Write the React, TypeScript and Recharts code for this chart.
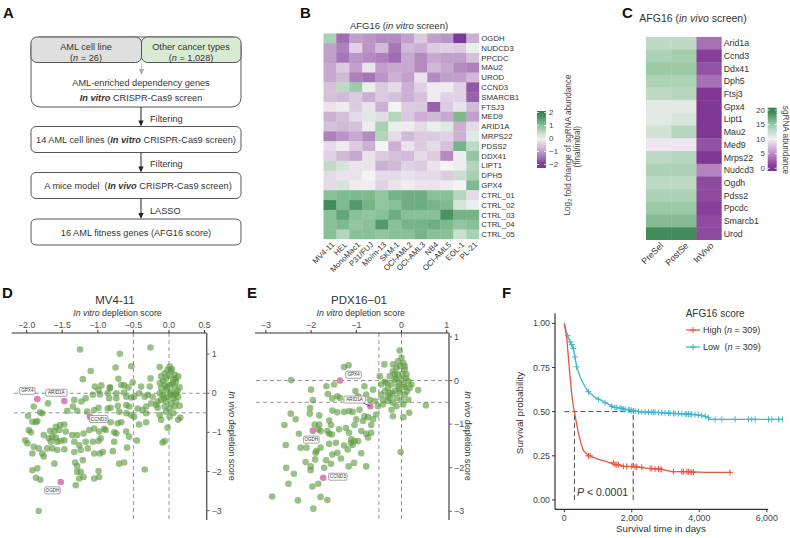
import React from 'react';
import {
  ScatterChart,
  Scatter,
  ComposedChart,
  Line,
  XAxis,
  YAxis,
  ReferenceLine,
} from 'recharts';

const FONT = '"Liberation Sans", Arial, sans-serif';
const INK = '#333';
const DOT_GREEN = '#5a9a3c';
const PINK = '#d884b8';
const RED = '#e8553f';
const BLUE = '#3fb5cf';

// ---------- B: AFG16 in vitro screen (log2 fold change) ----------
const B_LINES = ['MV4-11', 'HEL', 'MonoMac1', 'P31/FUJ', 'Molm-13', 'SKM-1', 'OCI-AML2', 'OCI-AML3', 'NB4', 'OCI-AML5', 'EOL-1', 'PL-21'];
const B_GENES = ['OGDH', 'NUDCD3', 'PPCDC', 'MAU2', 'UROD', 'CCND3', 'SMARCB1', 'FTSJ3', 'MED9', 'ARID1A', 'MRPS22', 'PDSS2', 'DDX41', 'LIPT1', 'DPH5', 'GPX4', 'CTRL_01', 'CTRL_02', 'CTRL_03', 'CTRL_04', 'CTRL_05'];
const B_LFC = [
  [0.7, -1.5, -1.0, -1.1, -1.2, -1.2, -1.0, -0.5, -1.0, -1.1, -2.0, -0.8],
  [-1.0, -1.3, -0.4, -1.1, -0.7, -1.4, -0.7, -0.8, -0.5, -0.4, -0.5, 0.1],
  [-1.0, -1.4, -1.1, -1.2, -1.3, -1.5, -0.9, -1.2, -0.9, -1.0, -1.0, -0.6],
  [-0.9, -0.5, -1.0, -0.2, -1.0, -0.9, -0.9, -1.2, -0.7, -0.9, -1.2, -1.3],
  [-0.9, -0.7, -1.3, -1.4, -1.1, -0.8, -1.0, -0.2, -1.2, -1.0, -1.0, -0.7],
  [-0.6, 0.5, 0.8, 0.1, -0.5, -0.3, -0.8, -0.4, -0.1, -0.1, -0.4, -1.7],
  [-0.6, -0.7, -0.5, -0.8, -0.5, -0.6, -0.8, -0.6, -0.1, -0.4, -0.4, -1.6],
  [-0.2, -0.1, -0.5, -0.2, -0.8, 0.0, -0.5, -0.5, -1.6, -0.5, -0.2, -0.7],
  [-0.8, -0.6, -0.3, 0.2, -0.3, 0.6, -0.5, -0.8, -0.7, -0.9, 1.1, -1.0],
  [-0.6, -0.7, -0.6, -0.1, 0.7, 0.1, -0.1, -0.3, 0.1, 0.2, -0.8, -0.3],
  [-1.3, -1.1, -0.9, -1.2, 0.6, -0.3, -0.7, -0.5, -0.5, -0.4, -0.8, 0.2],
  [-0.3, -0.1, -0.5, -0.8, 0.0, -0.8, -0.2, -0.5, -0.3, -0.6, 1.2, 0.5],
  [-0.4, -0.7, -0.9, -0.2, -0.5, -0.6, -0.7, -0.3, -0.5, -1.2, -0.1, 0.9],
  [0.5, 0.3, -0.2, -0.2, -0.8, -0.7, -0.4, -0.5, -0.2, 0.0, -0.1, 0.6],
  [-0.3, -0.2, -0.2, 0.0, -0.3, -0.3, -0.2, -0.3, -0.3, -0.5, 0.4, 0.7],
  [-0.3, 0.3, -0.1, -0.1, -0.4, -0.2, -0.1, -0.2, -0.2, -0.1, 0.0, 1.1],
  [1.0, 1.1, 1.1, 1.1, 0.9, 1.2, 1.3, 1.3, 1.0, 1.0, 0.6, -0.3],
  [1.8, 1.1, 1.6, 1.2, 0.9, 1.0, 1.3, 1.3, 1.2, 1.1, 0.3, 0.1],
  [1.0, 1.4, 1.0, 0.9, 1.0, 1.3, 1.0, 1.0, 1.0, 1.7, 1.2, 1.2],
  [1.0, 1.1, 0.9, 1.0, 1.6, 1.0, 1.2, 1.2, 1.3, 1.1, 0.9, 1.0],
  [1.0, 0.6, 1.0, 1.0, 0.9, 1.0, 1.0, 1.2, 1.0, 1.0, 0.4, 0.7],
];
const B_STOPS: [number, string][] = [[-2, '#7b3a96'], [-1, '#c29fcc'], [0, '#f4f4f4'], [1, '#88c097'], [2, '#2f8049']];
const B_BAR_TICKS = [2, 1, 0, -1, -2];

// ---------- C: AFG16 in vivo screen (sgRNA abundance) ----------
const C_SAMPLES = ['PreSel', 'PostSe', 'InVivo'];
const C_GENES = ['Arid1a', 'Ccnd3', 'Ddx41', 'Dph5', 'Ftsj3', 'Gpx4', 'Lipt1', 'Mau2', 'Med9', 'Mrps22', 'Nudcd3', 'Ogdh', 'Pdss2', 'Ppcdc', 'Smarcb1', 'Urod'];
const C_ABUND = [
  [13, 13, 3.5],
  [14, 14.5, 1],
  [15, 15, 2],
  [14, 14, 3.5],
  [13, 13.5, 0.5],
  [11, 11, 0.5],
  [11, 11.5, 0.5],
  [12, 13.5, 0.5],
  [9.5, 9.5, 2],
  [13, 13.5, 0.5],
  [14, 14, 4.5],
  [13, 13, 1.5],
  [14, 14, 1.5],
  [15, 15, 1],
  [16, 16, 1.5],
  [19, 19, 1.5],
];
const C_STOPS: [number, string][] = [[0, '#7a2d8e'], [5, '#b98cc5'], [10, '#f3f0f3'], [15, '#9ccaa7'], [20, '#2e7d47']];
const C_BAR_TICKS = [20, 15, 10, 5, 0];

// ---------- D: MV4-11 depletion scores (in vitro, in vivo) ----------
const D_POINTS: [number, number][] = [
  [-1.25, 1.12], [-1.10, 0.57], [-1.21, 0.36], [-1.04, 0.17], [-0.95, 0.20], [-0.99, 0.08], [-0.83, 0.13], [-1.07, -0.04],
  [-0.97, -0.03], [-1.17, -0.13], [-1.33, -0.17], [-1.23, -0.21], [-1.35, -0.34], [-1.70, -0.26], [-1.90, -0.34], [-1.81, -0.49],
  [-1.78, -0.51], [-1.43, -0.45], [-1.29, -0.45], [-1.15, -0.47], [-1.05, -0.43], [-0.99, -0.37], [-0.86, -0.39], [-1.98, -0.58],
  [-1.92, -0.73], [-1.87, -0.74], [-1.85, -0.71], [-1.97, -0.94], [-1.94, -1.00], [-1.76, -1.07], [-1.67, -0.96], [-1.59, -0.86],
  [-1.53, -0.81], [-1.47, -0.80], [-1.61, -0.98], [-1.54, -0.94], [-1.45, -0.98], [-1.36, -1.07], [-1.29, -1.07], [-1.20, -1.03],
  [-1.12, -0.94], [-1.05, -0.90], [-0.98, -0.98], [-0.91, -0.91], [-2.02, -1.20], [-1.99, -1.28], [-1.90, -1.37], [-1.83, -1.41],
  [-1.78, -1.54], [-1.69, -1.15], [-1.64, -1.11], [-1.59, -1.14], [-1.66, -1.24], [-1.57, -1.24], [-1.52, -1.22], [-1.47, -1.20],
  [-1.33, -1.24], [-1.26, -1.33], [-1.17, -1.24], [-1.07, -1.24], [-0.99, -1.22], [-0.96, -1.15], [-1.71, -1.41], [-1.64, -1.41],
  [-1.57, -1.45], [-1.47, -1.43], [-1.33, -1.50], [-1.24, -1.45], [-1.14, -1.41], [-1.05, -1.54], [-0.97, -1.54], [-0.93, -1.50],
  [-1.92, -1.54], [-1.76, -1.62], [-1.61, -1.80], [-1.32, -1.77], [-1.21, -1.71], [-1.29, -1.86], [-1.92, -1.97], [-1.85, -1.92],
  [-1.87, -2.16], [-1.81, -2.21], [-1.29, -2.01], [-1.24, -2.01], [-1.20, -2.14], [-1.26, -2.18], [-1.05, -2.18], [-0.98, -2.14],
  [-0.99, -1.99], [-1.31, -2.35], [-1.83, -3.01],
  [-0.26, 1.17], [-0.69, 1.01], [-0.75, 0.66], [-0.53, 0.69], [-0.13, 0.67], [-0.71, 0.37], [-0.51, 0.28], [-0.26, 0.38],
  [-0.83, 0.15], [-0.67, 0.21], [-0.63, 0.20], [-0.57, 0.15], [-0.39, 0.17], [-0.27, 0.17], [-0.86, 0.00], [-0.74, 0.00],
  [-0.63, 0.02], [-0.49, -0.09], [-0.42, 0.00], [-0.34, -0.09], [-0.30, -0.04], [-0.23, -0.09], [-0.74, -0.13], [-0.84, -0.13],
  [-0.60, -0.09], [-0.53, -0.11], [-0.82, -0.37], [-0.72, -0.32], [-0.60, -0.30], [-0.56, -0.34], [-0.44, -0.39], [-0.37, -0.43],
  [-0.32, -0.34], [-0.25, -0.26], [-0.18, -0.30], [-0.16, -0.37], [-0.70, -0.47], [-0.60, -0.51], [-0.53, -0.56], [-0.49, -0.60],
  [-0.32, -0.51], [-0.13, -0.56], [-0.11, -0.68], [-0.67, -0.74], [-0.72, -0.77], [-0.82, -0.74], [-0.42, -0.80], [-0.32, -0.74],
  [-0.02, -0.88], [-0.89, -0.94], [-0.77, -1.00], [-0.74, -1.03], [-0.60, -0.98], [-0.56, -1.11], [-0.77, -1.24], [-0.79, -1.48],
  [-0.45, -1.21], [-0.06, -1.22], [-0.09, -1.26], [-0.59, -1.39], [-0.70, -1.80], [-0.63, -1.77], [-0.34, -1.95],
  [0.01, 0.68], [-0.02, 0.60], [-0.06, 0.51], [0.03, 0.56], [0.08, 0.47], [0.13, 0.43], [-0.11, 0.43], [-0.04, 0.38],
  [0.06, 0.34], [0.10, 0.30], [-0.13, 0.26], [-0.06, 0.21], [0.01, 0.21], [0.08, 0.17], [0.15, 0.15], [-0.11, 0.13],
  [-0.04, 0.08], [0.03, 0.04], [0.10, 0.00], [-0.09, -0.04], [-0.02, -0.09], [0.06, -0.13], [0.13, -0.09], [-0.11, -0.17],
  [-0.04, -0.21], [0.03, -0.26], [0.10, -0.21], [-0.06, -0.34], [0.01, -0.39], [0.08, -0.34], [0.15, -0.32], [-0.04, -0.47],
  [0.06, -0.51], [0.01, -0.60], [0.13, -0.68], [0.16, -0.62], [-0.16, -0.21], [-0.13, 0.00], [0.00, 0.45], [0.05, 0.25],
  [-0.03, 0.15], [0.12, 0.05], [0.07, -0.05], [-0.07, -0.12], [0.02, -0.02], [0.09, 0.38], [-0.08, 0.32], [0.04, 0.62],
];
const D_HITS = [
  { gene: 'GPX4', x: -1.85, y: -0.15 },
  { gene: 'ARID1A', x: -1.47, y: -0.2 },
  { gene: 'CCND3', x: -1.11, y: -0.6 },
  { gene: 'OGDH', x: -1.52, y: -2.27 },
];

// ---------- E: PDX16-01 depletion scores ----------
const E_POINTS: [number, number][] = [
  [-1.27, 0.31], [-1.17, 0.35], [-2.44, 0.01], [-2.00, -0.21], [-1.66, -0.13], [-1.49, -0.09], [-1.63, -0.31], [-1.53, -0.41],
  [-1.96, -0.45], [-1.42, -0.36], [-1.36, -0.40], [-2.02, -0.63], [-2.03, -0.76], [-2.45, -0.76], [-2.34, -0.89], [-2.59, -1.02],
  [-1.82, -0.80], [-1.53, -0.69], [-1.42, -0.73], [-1.27, -0.72], [-1.16, -0.70], [-1.92, -1.01], [-1.82, -1.01], [-1.60, -0.92],
  [-1.56, -1.02], [-1.38, -1.12], [-1.23, -1.09], [-2.27, -1.22], [-1.84, -1.12], [-1.79, -1.16], [-1.64, -1.16], [-1.60, -1.22],
  [-1.54, -1.24], [-1.16, -1.20], [-2.56, -1.48], [-2.23, -1.54], [-2.10, -1.54], [-1.90, -1.66], [-1.79, -1.54], [-1.60, -1.45],
  [-1.45, -1.43], [-1.27, -1.49], [-1.19, -1.58], [-1.12, -1.43], [-2.12, -1.87], [-2.01, -1.97], [-1.91, -1.81], [-1.67, -1.83],
  [-1.56, -1.91], [-1.53, -1.70], [-1.42, -1.66], [-1.34, -1.79], [-2.55, -2.00], [-2.38, -2.14], [-2.01, -2.06], [-1.71, -2.00],
  [-1.17, -1.97], [-2.50, -2.37], [-1.97, -2.43], [-1.84, -2.37], [-2.86, -2.66], [-2.29, -2.75], [-1.79, -2.67], [-1.64, -2.74],
  [-1.95, -2.94], [-1.88, -1.62],
  [-0.38, 0.37], [-1.02, -0.24], [-0.82, -0.13], [-0.96, -0.36], [-0.78, -0.32], [-0.63, -0.21], [-0.70, -0.44], [-0.59, -0.47],
  [-0.48, 0.10], [-0.45, -0.09], [-0.37, -0.03], [-0.52, -0.59], [-0.41, -0.55], [-1.08, -0.72], [-0.93, -0.67], [-0.82, -0.82],
  [-0.85, -0.93], [-0.74, -0.84], [-0.63, -0.89], [-1.00, -0.89], [-1.04, -1.02], [-0.89, -1.16], [-0.78, -1.22], [-0.67, -1.20],
  [-0.67, -1.02], [-0.56, -0.78], [-1.11, -1.35], [-1.04, -1.39], [-1.08, -1.48], [-0.96, -1.39], [-0.74, -1.31], [-0.89, -1.67],
  [-1.05, -1.89], [-0.78, -1.97], [-0.19, -0.82], [-0.22, -0.67], [0.04, -0.84], [0.17, -0.74], [0.37, -0.22], [0.54, -0.57],
  [-0.02, -1.64], [-0.30, -0.47], [-0.26, -0.28], [-0.11, -0.59],
  [-0.04, 0.69], [0.00, 0.52], [0.04, 0.40], [-0.04, 0.33], [-0.11, 0.29], [-0.19, 0.21], [0.07, 0.25], [0.11, 0.14],
  [-0.08, 0.14], [-0.26, 0.10], [-0.15, 0.02], [0.00, 0.02], [0.15, -0.02], [-0.33, -0.05], [-0.22, -0.09], [-0.08, -0.13],
  [0.07, -0.15], [0.18, -0.17], [-0.37, -0.24], [-0.15, -0.24], [-0.04, -0.28], [0.07, -0.32], [-0.26, -0.40], [-0.11, -0.40],
  [0.00, -0.44], [0.15, -0.44], [-0.19, -0.51], [0.04, -0.55], [-0.45, -0.32], [-0.41, -0.44], [0.22, -0.09], [-0.30, -0.17],
  [-0.19, 0.37], [-0.08, 0.44], [0.07, 0.33], [-0.12, 0.05], [0.10, 0.05], [-0.05, -0.20], [0.12, -0.25], [-0.20, -0.30],
  [-0.30, -0.35], [0.02, 0.15], [-0.06, -0.05], [0.05, -0.10], [-0.15, 0.15],
];
const E_HITS = [
  { gene: 'GPX4', x: -1.36, y: 0 },
  { gene: 'ARID1A', x: -0.69, y: -0.59 },
  { gene: 'OGDH', x: -1.96, y: -1.15 },
  { gene: 'CCND3', x: -1.73, y: -2.23 },
];

// ---------- F: Kaplan-Meier by AFG16 score ----------
const HIGH_T = [0, 70, 120, 169, 219, 268, 317, 367, 416, 495, 564, 663, 811, 1009, 1207, 1503, 1800, 2096, 2492, 2887, 3183, 3677, 4172, 4913];
const HIGH_S = [1, 0.92, 0.81, 0.7, 0.6, 0.53, 0.48, 0.43, 0.38, 0.32, 0.28, 0.26, 0.245, 0.23, 0.22, 0.2, 0.19, 0.188, 0.179, 0.173, 0.16, 0.16, 0.156, 0.156];
const LOW_T = [0, 70, 169, 268, 367, 466, 614, 713, 910, 1108, 1306, 1503, 1701, 2000, 2300, 2689, 3183, 3677, 3974, 4221, 4320, 6470];
const LOW_S = [1, 0.943, 0.896, 0.858, 0.754, 0.698, 0.641, 0.613, 0.581, 0.562, 0.543, 0.524, 0.518, 0.506, 0.498, 0.496, 0.49, 0.486, 0.481, 0.471, 0.456, 0.456];
const HIGH_CENS_T = [713, 762, 1454, 1503, 1553, 1602, 1750, 1849, 1997, 2096, 2146, 2294, 2541, 2590, 2689, 2788, 2837, 2887, 3233, 3480, 3529, 3628, 3677, 3727, 3776, 3826, 4913];
const HIGH_CENS_S = [0.25, 0.25, 0.21, 0.2, 0.2, 0.2, 0.19, 0.19, 0.19, 0.188, 0.188, 0.185, 0.178, 0.178, 0.175, 0.175, 0.173, 0.173, 0.16, 0.16, 0.16, 0.16, 0.16, 0.16, 0.156, 0.156, 0.156];
const LOW_CENS_T = [100, 169, 219, 268, 317, 367, 713, 1009, 1207, 1404, 1503, 1553, 1651, 1701, 1750, 1800, 1899, 1948, 1997, 2047, 2096, 2195, 2294, 2393, 2492, 2590, 2640, 2689, 2788, 2887, 2986, 3085, 3134, 3233, 3282, 3381, 3480, 3579, 3628, 3677, 3727, 3776, 3875, 3974, 4073, 4172, 4271, 4468, 4666, 5061, 5456, 5555, 5654, 6050, 6148, 6346, 6470];
const LOW_CENS_S = [0.93, 0.896, 0.88, 0.858, 0.81, 0.754, 0.613, 0.57, 0.55, 0.53, 0.524, 0.522, 0.52, 0.518, 0.515, 0.513, 0.51, 0.51, 0.506, 0.504, 0.503, 0.501, 0.498, 0.498, 0.497, 0.497, 0.496, 0.496, 0.495, 0.494, 0.493, 0.492, 0.491, 0.49, 0.49, 0.488, 0.488, 0.487, 0.486, 0.486, 0.485, 0.485, 0.483, 0.481, 0.478, 0.474, 0.465, 0.456, 0.456, 0.456, 0.456, 0.456, 0.456, 0.456, 0.456, 0.456, 0.456];
const MEDIAN_HIGH = 300;
const MEDIAN_LOW = 2040;

// ---------- helpers ----------
const hex = (h: string) => [1, 3, 5].map((i) => parseInt(h.slice(i, i + 2), 16));
function ramp(stops: [number, string][], v: number) {
  if (v <= stops[0][0]) return stops[0][1];
  for (let i = 1; i < stops.length; i++) {
    if (v <= stops[i][0]) {
      const [v0, c0] = stops[i - 1];
      const [v1, c1] = stops[i];
      const t = (v - v0) / (v1 - v0);
      const a = hex(c0);
      const b = hex(c1);
      return `rgb(${a.map((x, k) => Math.round(x + (b[k] - x) * t)).join(',')})`;
    }
  }
  return stops[stops.length - 1][1];
}
const minus = (s: string) => s.replace('-', '\u2212');

function T({ x, y, size = 9, anchor = 'middle', rot = 0, weight, fill = INK, children }: any) {
  return (
    <text
      x={x}
      y={y}
      fontSize={size}
      textAnchor={anchor}
      fontWeight={weight}
      fill={fill}
      fontFamily={FONT}
      dominantBaseline="central"
      transform={rot ? `rotate(${rot} ${x} ${y})` : undefined}
    >
      {children}
    </text>
  );
}

// ---------- heatmap (B and C) ----------
function Heatmap({ rows, cols, values, stops, box, plot, labelSize }: any) {
  const yW = 60;
  const xH = 30;
  const cells = values.flatMap((row: number[], r: number) => row.map((v, c) => ({ r, c, v })));
  const cw = (plot.right - plot.left) / cols.length;
  const ch = (plot.bottom - plot.top) / rows.length;
  const margin = {
    left: plot.left - box.left,
    top: plot.top - box.top,
    right: box.left + box.width - plot.right - yW,
    bottom: box.top + box.height - plot.bottom - xH,
  };
  return (
    <div style={{ position: 'absolute', left: box.left, top: box.top }}>
      <ScatterChart width={box.width} height={box.height} margin={margin}>
        <XAxis
          type="number"
          dataKey="c"
          domain={[-0.5, cols.length - 0.5]}
          allowDataOverflow
          ticks={cols.map((_: string, i: number) => i)}
          interval={0}
          height={xH}
          axisLine={false}
          tickLine={false}
          tickSize={0}
          tickMargin={4}
          tick={(p: any) => (
            <text
              x={p.x + 3}
              y={p.y}
              transform={`rotate(-45 ${p.x + 3} ${p.y})`}
              textAnchor="end"
              dy="0.35em"
              fontSize={labelSize}
              fill={INK}
              fontFamily={FONT}
            >
              {cols[p.payload.value]}
            </text>
          )}
        />
        <YAxis
          type="number"
          dataKey="r"
          orientation="right"
          reversed
          domain={[-0.5, rows.length - 0.5]}
          allowDataOverflow
          ticks={rows.map((_: string, i: number) => i)}
          interval={0}
          width={yW}
          axisLine={false}
          tickLine={false}
          tickSize={0}
          tickMargin={2}
          tickFormatter={(i: number) => rows[i]}
          tick={{ fontSize: labelSize, fill: INK, fontFamily: FONT }}
        />
        <Scatter
          data={cells}
          isAnimationActive={false}
          shape={(p: any) => (
            <rect x={p.cx - cw / 2} y={p.cy - ch / 2} width={cw + 0.4} height={ch + 0.4} fill={ramp(stops, p.payload.v)} />
          )}
        />
      </ScatterChart>
    </div>
  );
}

function ColorBar({ x, y, w, h, vTop, vBot, stops, ticks, labelX, anchor, id }: any) {
  const n = 12;
  const toY = (v: number) => y + ((vTop - v) / (vTop - vBot)) * h;
  return (
    <g>
      <defs>
        <linearGradient id={id} x1="0" y1="0" x2="0" y2="1">
          {Array.from({ length: n + 1 }, (_, i) => (
            <stop key={i} offset={i / n} stopColor={ramp(stops, vTop - ((vTop - vBot) * i) / n)} />
          ))}
        </linearGradient>
      </defs>
      <rect x={x} y={y} width={w} height={h} fill={`url(#${id})`} />
      {ticks.map((v: number) => (
        <g key={v}>
          <line x1={x} x2={x + 2} y1={toY(v)} y2={toY(v)} stroke="#fff" strokeWidth={0.8} />
          <line x1={x + w - 2} x2={x + w} y1={toY(v)} y2={toY(v)} stroke="#fff" strokeWidth={0.8} />
          <T x={labelX} y={toY(v)} size={8} anchor={anchor} fill="#444">
            {minus(String(v))}
          </T>
        </g>
      ))}
    </g>
  );
}

// ---------- scatter panels (D and E) ----------
const dotShape = (p: any) => <circle cx={p.cx} cy={p.cy} r={3.3} fill={DOT_GREEN} fillOpacity={0.62} />;

const hitShape = (tags: Record<string, number[]>) => (p: any) => {
  const { cx, cy, payload } = p;
  const [dx, dy, link] = tags[payload.gene];
  const w = payload.gene.length * 2.9 + 4;
  const bx = cx + dx;
  const by = cy + dy;
  return (
    <g>
      <circle cx={cx} cy={cy} r={3.3} fill={PINK} />
      {link ? <line x1={bx + w / 2 - 2} y1={by + 3.5} x2={cx} y2={cy} stroke="#222" strokeWidth={0.7} /> : null}
      <rect x={bx - w / 2} y={by - 3.5} width={w} height={7} rx={1.5} fill="#fff" stroke="#666" strokeWidth={0.6} />
      <text x={bx} y={by + 1.6} fontSize={4.6} textAnchor="middle" fill={INK} fontFamily={FONT}>
        {payload.gene}
      </text>
    </g>
  );
};

const D_TAGS: Record<string, number[]> = { GPX4: [-10, -8.3], ARID1A: [-8, -8.3], CCND3: [8.8, 2.3], OGDH: [-8.3, 8.3] };
const E_TAGS: Record<string, number[]> = { GPX4: [13.5, -5.7], ARID1A: [-15.7, -6.7, 1], OGDH: [-1.6, 9], CCND3: [14.5, -1] };

function DepletionPlot({ left, width, plotLeft, plotRight, xDomain, yDomain, xTicks, yTicks, xFmt, points, hits, tags }: any) {
  const top = 270;
  const height = 268;
  const plotTop = 333;
  const plotBottom = 520;
  const xH = 20;
  const yW = 25;
  const margin = {
    top: plotTop - top - xH,
    left: plotLeft - left,
    right: left + width - plotRight - yW,
    bottom: top + height - plotBottom,
  };
  const data = points.map(([x, y]: number[]) => ({ x, y }));
  const dash = { stroke: '#8a8a8a', strokeDasharray: '4 3', strokeWidth: 0.9 };
  return (
    <div style={{ position: 'absolute', left, top }}>
      <ScatterChart width={width} height={height} margin={margin}>
        <XAxis
          type="number"
          dataKey="x"
          orientation="top"
          domain={xDomain}
          allowDataOverflow
          ticks={xTicks}
          interval={0}
          height={xH}
          tickSize={3}
          axisLine={{ stroke: '#333', strokeWidth: 1.2 }}
          tickLine={{ stroke: '#333' }}
          tick={{ fontSize: 8.8, fill: '#4d4d4d', fontFamily: FONT }}
          tickFormatter={(v: number) => minus(xFmt(v))}
        />
        <YAxis
          type="number"
          dataKey="y"
          orientation="right"
          domain={yDomain}
          allowDataOverflow
          ticks={yTicks}
          interval={0}
          width={yW}
          tickSize={3}
          axisLine={{ stroke: '#666', strokeWidth: 1.5 }}
          tickLine={{ stroke: '#666' }}
          tick={{ fontSize: 8.8, fill: '#4d4d4d', fontFamily: FONT }}
          tickFormatter={(v: number) => minus(String(v))}
        />
        <Scatter data={data} isAnimationActive={false} shape={dotShape} />
        <ReferenceLine x={-0.5} {...dash} />
        <ReferenceLine x={0} {...dash} />
        <ReferenceLine y={0} {...dash} />
        <ReferenceLine y={-0.5} {...dash} />
        <Scatter data={hits} isAnimationActive={false} shape={hitShape(tags)} />
      </ScatterChart>
    </div>
  );
}

// ---------- survival panel (F) ----------
const plusShape = (color: string) => (p: any) => (
  <path d={`M${p.cx - 3},${p.cy}h6M${p.cx},${p.cy - 3}v6`} stroke={color} strokeWidth={1} />
);

function Survival() {
  const high = HIGH_T.map((t, i) => ({ t, s: HIGH_S[i] }));
  const low = LOW_T.map((t, i) => ({ t, s: LOW_S[i] }));
  const highCens = HIGH_CENS_T.map((t, i) => ({ t, s: HIGH_CENS_S[i] }));
  const lowCens = LOW_CENS_T.map((t, i) => ({ t, s: LOW_CENS_S[i] }));
  const dash = { stroke: '#444', strokeDasharray: '5 3', strokeWidth: 1 };
  const xMin = -276;
  const yMin = -0.053;
  const axisEnd = 6040;
  return (
    <div style={{ position: 'absolute', left: 510, top: 270 }}>
      <ComposedChart width={280} height={268} margin={{ top: 43.3, left: 0, right: 7, bottom: 8.7 }}>
        <XAxis
          type="number"
          dataKey="t"
          domain={[xMin, 6480]}
          allowDataOverflow
          ticks={[0, 2000, 4000, 6000]}
          interval={0}
          height={20}
          tickSize={3}
          axisLine={false}
          tickLine={{ stroke: INK }}
          tick={{ fontSize: 8.8, fill: '#444', fontFamily: FONT }}
          tickFormatter={(v: number) => v.toLocaleString('en-US')}
        />
        <YAxis
          type="number"
          dataKey="s"
          domain={[yMin, 1.057]}
          allowDataOverflow
          ticks={[0, 0.25, 0.5, 0.75, 1]}
          interval={0}
          width={45}
          tickSize={3}
          axisLine={{ stroke: INK, strokeWidth: 1.2 }}
          tickLine={{ stroke: INK }}
          tick={{ fontSize: 8.8, fill: '#444', fontFamily: FONT }}
          tickFormatter={(v: number) => v.toFixed(2)}
        />
        <ReferenceLine segment={[{ x: xMin, y: yMin }, { x: axisEnd, y: yMin }]} stroke={INK} strokeWidth={1.2} />
        <ReferenceLine segment={[{ x: 0, y: 0.5 }, { x: MEDIAN_LOW, y: 0.5 }]} {...dash} />
        <ReferenceLine segment={[{ x: MEDIAN_HIGH, y: 0 }, { x: MEDIAN_HIGH, y: 0.5 }]} {...dash} />
        <ReferenceLine segment={[{ x: MEDIAN_LOW, y: 0 }, { x: MEDIAN_LOW, y: 0.5 }]} {...dash} />
        <Line data={low} dataKey="s" type="linear" stroke={BLUE} strokeWidth={1.3} dot={false} isAnimationActive={false} />
        <Line data={high} dataKey="s" type="linear" stroke={RED} strokeWidth={1.3} dot={false} isAnimationActive={false} />
        <Scatter data={lowCens} dataKey="s" shape={plusShape(BLUE)} isAnimationActive={false} />
        <Scatter data={highCens} dataKey="s" shape={plusShape(RED)} isAnimationActive={false} />
      </ComposedChart>
    </div>
  );
}

// ---------- A: workflow ----------
function Arrow({ x, y1, y2, color = '#222', dashed }: any) {
  return (
    <g>
      <line x1={x} x2={x} y1={y1} y2={y2 - 5} stroke={color} strokeWidth={1} strokeDasharray={dashed ? '1.5 1' : undefined} />
      <path d={`M${x - 2.6},${y2 - 6} L${x + 2.6},${y2 - 6} L${x},${y2} Z`} fill={color} />
    </g>
  );
}

function Workflow() {
  const s = 9.2;
  const bi = { fontWeight: 'bold', fontStyle: 'italic' } as const;
  return (
    <g>
      <rect x={31} y={37} width={210} height={70} rx={9} fill="#fff" stroke="#555" />
      <rect x={31} y={37} width={110.5} height={25.5} rx={6} fill="#dfdfdf" stroke="#555" />
      <rect x={141.5} y={37} width={99.5} height={25.5} rx={6} fill="#d9ead3" stroke="#555" />
      <T x={86} y={47} size={s}>AML cell line</T>
      <T x={86} y={57.5} size={s}>(<tspan fontStyle="italic">n</tspan> = 26)</T>
      <T x={191} y={47} size={s}>Other cancer types</T>
      <T x={191} y={57.5} size={s}>(<tspan fontStyle="italic">n</tspan> = 1,028)</T>
      <Arrow x={141.5} y1={63.5} y2={75} color="#aaa" dashed />
      <T x={141} y={82.5} size={s}>AML-enriched dependency genes</T>
      <line x1={81} x2={205} y1={89.5} y2={89.5} stroke="#888" strokeWidth={0.8} />
      <T x={141} y={98} size={s}><tspan {...bi}>In vitro</tspan> CRISPR-Cas9 screen</T>
      <Arrow x={141} y1={107} y2={126.5} />
      <T x={150} y={118.5} size={s} anchor="start">Filtering</T>
      <rect x={31} y={126.5} width={210} height={26} rx={5} fill="#fff" stroke="#555" />
      <T x={136} y={140} size={s}>14 AML cell lines (<tspan {...bi}>In vitro</tspan> CRISPR-Cas9 screen)</T>
      <Arrow x={141} y1={152.5} y2={172.5} />
      <T x={150} y={164} size={s} anchor="start">Filtering</T>
      <rect x={31} y={172.5} width={210} height={26} rx={5} fill="#fff" stroke="#555" />
      <T x={138} y={186} size={s}>A mice model{'\u00a0'} (<tspan {...bi}>In vivo</tspan> CRISPR-Cas9 screen)</T>
      <Arrow x={141} y1={198.5} y2={219} />
      <T x={150} y={211} size={s} anchor="start">LASSO</T>
      <rect x={31} y={219} width={210} height={26} rx={5} fill="#fff" stroke="#555" />
      <T x={136} y={232.5} size={s}>16 AML fitness genes (AFG16 score)</T>
    </g>
  );
}

export default function App() {
  const letter = { size: 15, weight: 'bold', anchor: 'start', fill: '#111' };
  return (
    <div style={{ position: 'absolute', left: 0, top: 0, width: 790, height: 538, background: '#fff', overflow: 'hidden', fontFamily: FONT }}>
      <Heatmap
        rows={B_GENES}
        cols={B_LINES}
        values={B_LFC}
        stops={B_STOPS}
        labelSize={7.8}
        box={{ left: 240, top: 0, width: 300, height: 300 }}
        plot={{ left: 323.3, top: 33.3, right: 479.3, bottom: 239.3 }}
      />
      <Heatmap
        rows={C_GENES}
        cols={C_SAMPLES}
        values={C_ABUND}
        stops={C_STOPS}
        labelSize={8.8}
        box={{ left: 600, top: 0, width: 190, height: 300 }}
        plot={{ left: 646, top: 36.7, right: 721.7, bottom: 240 }}
      />
      <DepletionPlot
        left={0}
        width={250}
        plotLeft={11.7}
        plotRight={206.7}
        xDomain={[-2.21, 0.53]}
        yDomain={[-3.24, 1.54]}
        xTicks={[-2, -1.5, -1, -0.5, 0, 0.5]}
        yTicks={[1, 0, -1, -2, -3]}
        xFmt={(v: number) => v.toFixed(1)}
        points={D_POINTS}
        hits={D_HITS}
        tags={D_TAGS}
      />
      <DepletionPlot
        left={250}
        width={230}
        plotLeft={255}
        plotRight={449}
        xDomain={[-3.24, 1.05]}
        yDomain={[-3.2, 1.09]}
        xTicks={[-3, -2, -1, 0, 1]}
        yTicks={[1, 0, -1, -2, -3]}
        xFmt={(v: number) => String(v)}
        points={E_POINTS}
        hits={E_HITS}
        tags={E_TAGS}
      />
      <Survival />
      <svg width={790} height={538} style={{ position: 'absolute', left: 0, top: 0, pointerEvents: 'none' }}>
        <Workflow />
        <T x={3} y={12.5} {...letter}>A</T>
        <T x={300} y={12.5} {...letter}>B</T>
        <T x={622} y={12.5} {...letter}>C</T>
        <T x={2} y={292} {...letter}>D</T>
        <T x={247} y={292} {...letter}>E</T>
        <T x={502} y={292} {...letter}>F</T>

        <T x={399} y={25.3} size={9.5}>AFG16 (<tspan fontStyle="italic">in vitro</tspan> screen)</T>
        <T x={693} y={18.3} size={10.5}>AFG16 (<tspan fontStyle="italic">in vivo</tspan> screen)</T>

        <ColorBar id="gB" x={537} y={111} w={9} h={57} vTop={2.115} vBot={-2.27} stops={B_STOPS} ticks={B_BAR_TICKS} labelX={549} anchor="start" />
        <T x={567.7} y={145} size={8.2} rot={-90} fill="#444">
          Log<tspan fontSize={5.5} dy={2}>2</tspan><tspan dy={-2}> fold change of sgRNA abundance</tspan>
        </T>
        <T x={577.7} y={146.7} size={8.2} rot={-90} fill="#444">(final/initial)</T>

        <ColorBar id="gC" x={767.7} y={107.7} w={9} h={63.3} vTop={20.79} vBot={-0.93} stops={C_STOPS} ticks={C_BAR_TICKS} labelX={765} anchor="end" />
        <T x={785} y={140} size={8.2} rot={90} fill="#444">sgRNA abundance</T>

        <T x={115} y={300} size={11.5}>MV4-11</T>
        <T x={117.5} y={313.3} size={8.8}><tspan fontStyle="italic">In vitro</tspan> depletion score</T>
        <T x={231.7} y={436} size={9} rot={90}><tspan fontStyle="italic">In vivo</tspan> depletion score</T>

        <T x={359} y={300} size={11.5}>PDX16{'\u2212'}01</T>
        <T x={360.7} y={313.3} size={8.8}><tspan fontStyle="italic">In vitro</tspan> depletion score</T>
        <T x={468.3} y={436} size={9} rot={90}><tspan fontStyle="italic">In vivo</tspan> depletion score</T>

        <T x={519} y={413} size={9.8} rot={-90}>Survival probability</T>
        <T x={661} y={528} size={9.8}>Survival time in days</T>
        <T x={577} y={491.7} size={10.5} anchor="start"><tspan fontStyle="italic">P</tspan> {'< 0.0001'}</T>

        <T x={685.7} y={313} size={10} anchor="start">AFG16 score</T>
        <line x1={686} x2={700} y1={330} y2={330} stroke={RED} strokeWidth={1.3} />
        <path d="M690,330h6M693,327v6" stroke={RED} strokeWidth={1} />
        <T x={703} y={330} size={9} anchor="start">High (<tspan fontStyle="italic">n</tspan> = 309)</T>
        <line x1={686} x2={700} y1={347} y2={347} stroke={BLUE} strokeWidth={1.3} />
        <path d="M690,347h6M693,344v6" stroke={BLUE} strokeWidth={1} />
        <T x={703} y={347} size={9} anchor="start">Low{'\u00a0\u00a0'}(<tspan fontStyle="italic">n</tspan> = 309)</T>
      </svg>
    </div>
  );
}
